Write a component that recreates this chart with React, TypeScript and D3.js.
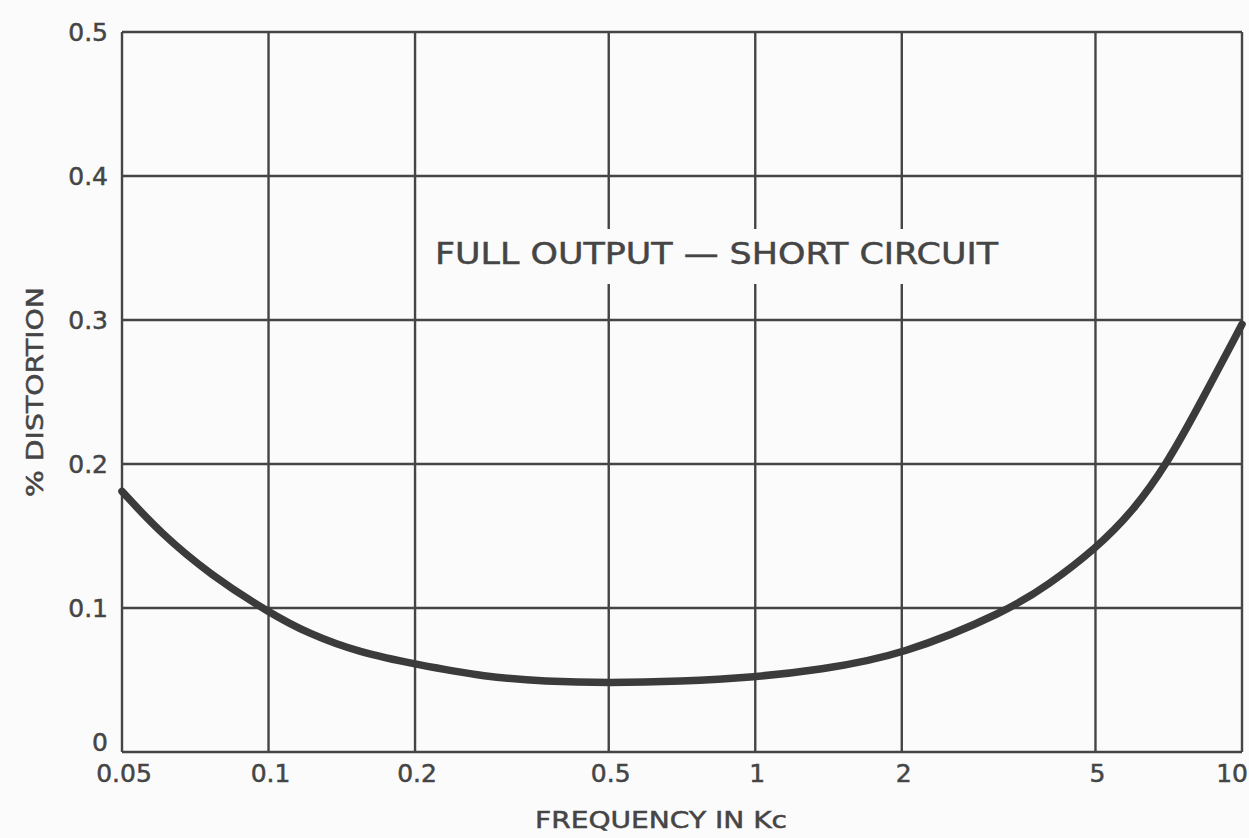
import * as React from "react";
import * as d3 from "d3";

// frequency in Kc and % distortion
const freqKc = [0.05, 0.06, 0.076, 0.1, 0.121, 0.154, 0.2, 0.28, 0.37, 0.5, 0.7, 1, 1.35, 2, 3.3, 4, 5, 6, 7, 8, 10];
const distortion = [0.181, 0.152, 0.123, 0.097, 0.082, 0.069, 0.061, 0.052, 0.049, 0.048, 0.049, 0.052, 0.057, 0.067, 0.098, 0.116, 0.141, 0.168, 0.2, 0.235, 0.297];

const xTicks = [0.05, 0.1, 0.2, 0.5, 1, 2, 5, 10];
const xTickLabels = ["0.05", "0.1", "0.2", "0.5", "1", "2", "5", "10"];
const yTicks = [0, 0.1, 0.2, 0.3, 0.4, 0.5];
const yTickLabels = ["0", "0.1", "0.2", "0.3", "0.4", "0.5"];

const W = 1249;
const H = 838;
const margin = { left: 122, top: 32, right: 7, bottom: 86 };
const ink = "#454545";
const font = "'DejaVu Sans', sans-serif";

export default function App() {
    const x = d3.scaleLog().domain([0.05, 10]).range([margin.left, W - margin.right]);
    const y = d3.scaleLinear().domain([0, 0.5]).range([H - margin.bottom, margin.top]);

    const pts: [number, number][] = freqKc.map((f, i) => [f, distortion[i]]);
    const line = d3.line<[number, number]>()
        .x(d => x(d[0]))
        .y(d => y(d[1]))
        .curve(d3.curveBasis);

    return (
        <svg width={W} height={H} style={{ position: "absolute", left: 0, top: 0, background: "#fbfbfb" }}>
            <rect width={W} height={H} fill="#fbfbfb" />
            {/* grid */}
            <g stroke={ink} strokeWidth={2.4}>
                {xTicks.map(t => (
                    <line key={"x" + t} x1={x(t)} x2={x(t)} y1={y(0.5)} y2={y(0)} />
                ))}
                {yTicks.map(t => (
                    <line key={"y" + t} x1={x(0.05)} x2={x(10)} y1={y(t)} y2={y(t)} />
                ))}
            </g>
            {/* white patch behind the note */}
            <rect x={425} y={229} width={590} height={55} fill="#fbfbfb" />
            <text x={435} y={264} fontFamily={font} fontSize={31} fill={ink} stroke={ink} strokeWidth={0.5}
                textLength={563} lengthAdjust="spacingAndGlyphs">
                FULL OUTPUT — SHORT CIRCUIT
            </text>
            {/* curve */}
            <path d={line(pts) || ""} fill="none" stroke="#3b3b3b" strokeWidth={7.5} strokeLinecap="round" />
            {/* tick labels */}
            <g fontFamily={font} fontSize={25} fill={ink} stroke={ink} strokeWidth={0.5}>
                {xTicks.map((t, i) => (
                    <text key={"xl" + t} x={t === 10 ? W - 1 : x(t) + 2} y={782} textAnchor={t === 10 ? "end" : "middle"}>
                        {xTickLabels[i]}
                    </text>
                ))}
                {yTicks.map((t, i) => (
                    <text key={"yl" + t} x={108} y={y(t) + (t === 0 ? -1 : 9)} textAnchor="end">{yTickLabels[i]}</text>
                ))}
            </g>
            <text x={661} y={828} textAnchor="middle" fontFamily={font} fontSize={23} fill={ink} stroke={ink} strokeWidth={0.5}
                textLength={252} lengthAdjust="spacingAndGlyphs">
                FREQUENCY IN Kc
            </text>
            <text transform="translate(43,392) rotate(-90)" textAnchor="middle" fontFamily={font} fontSize={23} fill={ink}
                stroke={ink} strokeWidth={0.5} textLength={210} lengthAdjust="spacingAndGlyphs">
                % DISTORTION
            </text>
        </svg>
    );
}
